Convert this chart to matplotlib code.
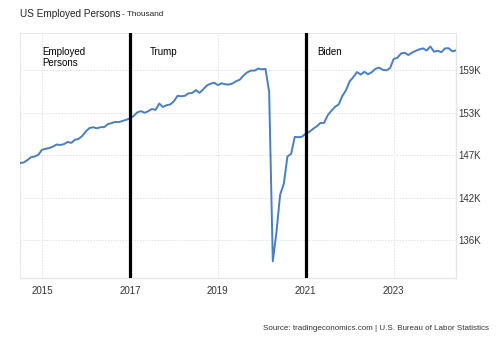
import numpy as np
import matplotlib
matplotlib.use("Agg")
import matplotlib.pyplot as plt

plt.rcParams['font.family'] = ['Liberation Sans', 'DejaVu Sans']

# --- Datos: personas empleadas en EE.UU. (miles), mensual jul-2014 .. jun-2024 ---
start_year, start_month = 2014, 7
employed = [
    146352, 146424, 146735, 147120, 147209, 147439,
    148104, 148231, 148333, 148523, 148795, 148739, 148840, 149136, 149012, 149417, 149534, 149929,
    150544, 150978, 151068, 150930, 151082, 151090, 151493, 151620, 151778, 151755, 151904, 152055,
    152230, 152551, 153030, 153192, 152977, 153188, 153481, 153356, 154197, 153738, 153983, 154077,
    154482, 155213, 155160, 155216, 155539, 155592, 155964, 155604, 156069, 156582, 156803, 156945,
    156627, 156866, 156741, 156696, 156844, 157148, 157346, 157895, 158298, 158544, 158536, 158803,
    158714, 158759, 155772, 133403, 137242, 142182, 143620, 147224, 147554, 149806, 149753, 149830,
    150244, 150473, 150862, 151200, 151636, 151651, 152661, 153246, 153771, 154083, 155215, 155975,
    157144, 157698, 158350, 158010, 158382, 158057, 158326, 158768, 158936, 158647, 158575, 158872,
    160082, 160232, 160802, 160895, 160590, 160906, 161148, 161342, 161472, 161186, 161720, 161037,
    161152, 160968, 161466, 161491, 161083, 161199,
]
terms = [(2017.0, "Trump"), (2021.0, "Biden")]
x_ticks = [2015, 2017, 2019, 2021, 2023]
y_ticks = [136200, 141800, 147400, 153000, 158600]

t = np.array([start_year + (start_month - 1 + i) / 12 for i in range(len(employed))])
y = np.array(employed)

fig = plt.figure(figsize=(4.97, 3.40), dpi=100)
ax = fig.add_axes([0.0402, 0.1824, 0.8773, 0.7206])

ax.plot(t, y, color="#4A7EC2", lw=1.4, zorder=3)
for xv, name in terms:
    ax.axvline(xv, color="black", lw=2.3, zorder=4)

ax.set_xlim(t[0], t[-1])
ax.set_ylim(131200, 163500)

ax.set_xticks(x_ticks)
ax.set_xticklabels([str(v) for v in x_ticks])
ax.set_yticks(y_ticks)
ax.set_yticklabels([f"{v/1000:.0f}K" for v in y_ticks])
ax.yaxis.tick_right()
ax.tick_params(length=0, labelsize=7, colors="#333333")
ax.tick_params(axis="x", pad=6)
ax.tick_params(axis="y", pad=2)

ax.grid(True, color="#e2e2e2", ls=(0, (1.5, 1.5)), lw=0.7)
for s in ["top", "left"]:
    ax.spines[s].set_color("#e2e2e2")
    ax.spines[s].set_linestyle((0, (1.5, 1.5)))
    ax.spines[s].set_linewidth(0.7)
for s in ["right", "bottom"]:
    ax.spines[s].set_color("#e6e6e6")
    ax.spines[s].set_linewidth(1.0)

ax.text(2015.0, 161700, "Employed\nPersons", fontsize=7, va="top", ha="left", linespacing=1.15)
ax.text(2017.45, 161700, "Trump", fontsize=7, va="top", ha="left")
ax.text(2021.27, 161700, "Biden", fontsize=7, va="top", ha="left")

fig.text(20 / 497, 1 - 14 / 340, "US Employed Persons", fontsize=7.2, va="center", ha="left", color="#222222")
fig.text(122 / 497, 1 - 14.5 / 340, "- Thousand", fontsize=5.9, va="center", ha="left", color="#222222")
fig.text(489 / 497, 1 - 328 / 340, "Source: tradingeconomics.com | U.S. Bureau of Labor Statistics",
         fontsize=5.75, va="center", ha="right", color="#333333")

fig.savefig("out.png", dpi=100)
